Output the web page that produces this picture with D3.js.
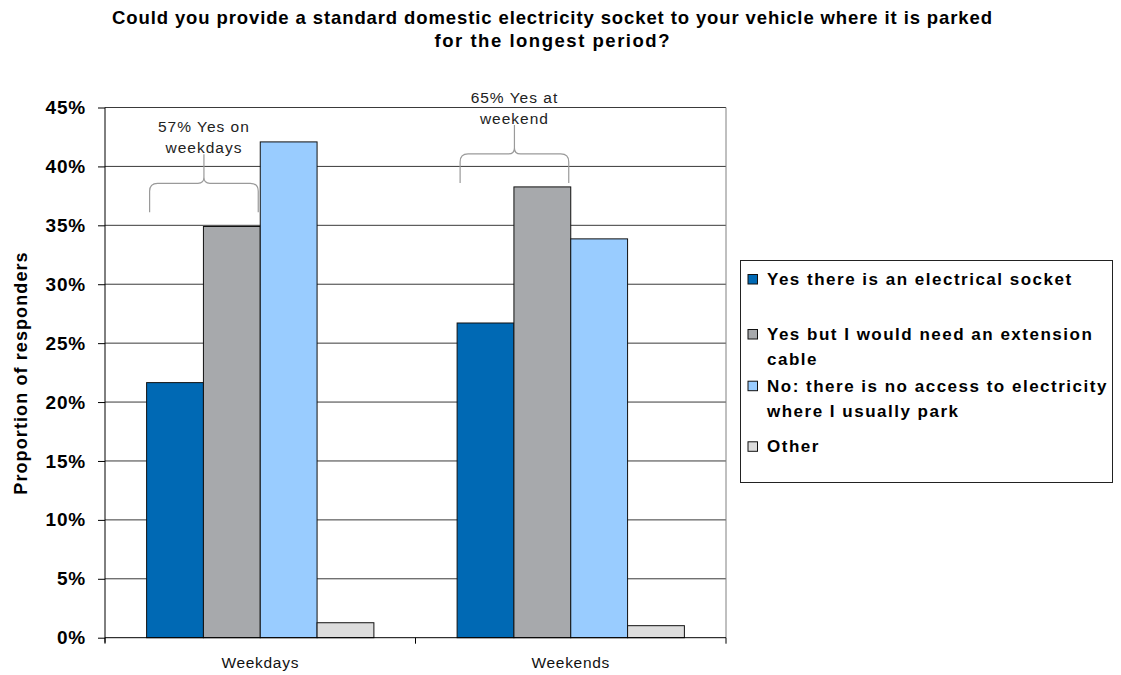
<!DOCTYPE html>
<html>
<head>
<meta charset="utf-8">
<script src="https://cdn.jsdelivr.net/npm/d3@7"></script>
<style>
  body { margin: 0; background: #fff; }
  svg { display: block; font-family: "Liberation Sans", Arial, sans-serif; }
</style>
</head>
<body>
<div id="grafico"></div>
<script>
// Datos
const categorias = ["Weekdays", "Weekends"];
const series = [
    "Yes there is an electrical socket",
    "Yes but I would need an extension cable",
    "No: there is no access to electricity where I usually park",
    "Other"
];
const valoresWeekdays = [0.2165, 0.349, 0.4208, 0.0127];
const valoresWeekends = [0.2671, 0.3826, 0.3385, 0.0102];
const ticksY = [0, 0.05, 0.10, 0.15, 0.20, 0.25, 0.30, 0.35, 0.40, 0.45];
const legendLines = [
    ["Yes there is an electrical socket"],
    ["Yes but I would need an extension", "cable"],
    ["No: there is no access to electricity", "where I usually park"],
    ["Other"]
];
const anotaciones = [
    { cat: "Weekdays", texto: ["57% Yes on", "weekdays"], nivel: 0.361 },
    { cat: "Weekends", texto: ["65% Yes at", "weekend"], nivel: 0.386 }
];
const titulo = [
    "Could you provide a standard domestic electricity socket to your vehicle where it is parked",
    "for the longest period?"
];
const colores = ["#0069B4", "#A7A9AC", "#99CCFF", "#DDDDDD"];

const datos = categorias.map((c, i) => ({
    nombre: c,
    valores: (i === 0 ? valoresWeekdays : valoresWeekends)
}));

const W = 1121, H = 675;
const plot = { left: 105, right: 726, top: 107.5, bottom: 637.7 };

const svg = d3.select("#grafico").append("svg")
    .attr("width", W).attr("height", H);

// Escalas
const x0 = d3.scaleBand()
    .domain(categorias)
    .range([plot.left, plot.right]);

const inset = x0.bandwidth() * 0.134;
const x1 = d3.scaleBand()
    .domain(d3.range(series.length))
    .range([inset, x0.bandwidth() - inset]);

const y = d3.scaleLinear()
    .domain([0, 0.45])
    .range([plot.bottom, plot.top]);

// Título
const anchoTitulo = [880, 235];
svg.append("g").selectAll("text")
    .data(titulo)
    .enter().append("text")
    .attr("x", 552)
    .attr("y", (d, i) => 24 + i * 23)
    .attr("text-anchor", "middle")
    .attr("font-size", 18.5).attr("font-weight", "bold")
    .attr("textLength", (d, i) => anchoTitulo[i])
    .attr("lengthAdjust", "spacing")
    .text(d => d);

// Líneas de cuadrícula
svg.append("g")
    .selectAll("line")
    .data(ticksY.filter(t => t > 0))
    .enter().append("line")
    .attr("x1", plot.left).attr("x2", plot.right)
    .attr("y1", d => y(d)).attr("y2", d => y(d))
    .attr("stroke", "#3a3a3a").attr("stroke-width", 1);

// Borde derecho
svg.append("line")
    .attr("x1", plot.right).attr("x2", plot.right)
    .attr("y1", plot.top).attr("y2", plot.bottom)
    .attr("stroke", "#808080");

// Barras
svg.selectAll("g.barra")
    .data(datos)
    .enter().append("g")
    .attr("class", "barra")
    .attr("transform", d => `translate(${x0(d.nombre)},0)`)
    .selectAll("rect")
    .data(d => d.valores.map((v, i) => ({ i: i, v: v })))
    .enter().append("rect")
    .attr("x", d => x1(d.i))
    .attr("y", d => y(d.v))
    .attr("width", x1.bandwidth())
    .attr("height", d => y(0) - y(d.v))
    .attr("fill", d => colores[d.i])
    .attr("stroke", "#111").attr("stroke-width", 1);

// Eje Y
const ejeY = svg.append("g")
    .attr("transform", `translate(${plot.left},0)`)
    .call(d3.axisLeft(y).tickValues(ticksY).tickSize(7).tickPadding(12)
        .tickFormat(d3.format(".0%")));
ejeY.select(".domain").remove();
ejeY.selectAll("line").attr("stroke", "#000");
ejeY.selectAll("text")
    .attr("font-size", 19).attr("font-weight", "bold")
    .attr("letter-spacing", 0.8)
    .attr("font-family", "Liberation Sans, Arial, sans-serif")
    .attr("fill", "#000");
svg.append("line")
    .attr("x1", plot.left).attr("x2", plot.left)
    .attr("y1", plot.top).attr("y2", plot.bottom + 5)
    .attr("stroke", "#000");

// Eje X
svg.append("line")
    .attr("x1", plot.left).attr("x2", plot.right)
    .attr("y1", plot.bottom).attr("y2", plot.bottom)
    .attr("stroke", "#000");
const bordesX = [plot.left].concat(categorias.map(c => x0(c) + x0.bandwidth()));
svg.append("g").selectAll("line")
    .data(bordesX)
    .enter().append("line")
    .attr("x1", d => d).attr("x2", d => d)
    .attr("y1", plot.bottom).attr("y2", plot.bottom + 6)
    .attr("stroke", "#000");
svg.append("g").selectAll("text")
    .data(categorias)
    .enter().append("text")
    .attr("x", d => x0(d) + x0.bandwidth() / 2)
    .attr("y", 668)
    .attr("text-anchor", "middle")
    .attr("font-size", 15.5)
    .attr("letter-spacing", 0.7)
    .attr("fill", "#111")
    .text(d => d);

// Título eje Y
svg.append("text")
    .attr("transform", "translate(27,373) rotate(-90)")
    .attr("text-anchor", "middle")
    .attr("font-size", 18).attr("font-weight", "bold")
    .attr("letter-spacing", 1.1)
    .text("Proportion of responders");

// Anotaciones (llaves)
anotaciones.forEach(a => {
    const xl = x0(a.cat) + x1(0) + 3;
    const xr = x0(a.cat) + x1(1) + x1.bandwidth() - 2;
    const xm = (xl + xr) / 2;
    const yb = y(a.nivel);
    const yh = yb - 29;
    const yt = yh - 29;
    const r = 8, r2 = 6;
    const p = `M${xl},${yb} V${yh + r} Q${xl},${yh} ${xl + r},${yh} H${xm - r2} Q${xm},${yh} ${xm},${yh - r2} V${yt}` +
              ` M${xr},${yb} V${yh + r} Q${xr},${yh} ${xr - r},${yh} H${xm + r2} Q${xm},${yh} ${xm},${yh - r2}`;
    svg.append("path")
        .attr("d", p)
        .attr("fill", "none")
        .attr("stroke", "#9a9a9a").attr("stroke-width", 1.2);
    svg.append("g").selectAll("text")
        .data(a.texto)
        .enter().append("text")
        .attr("x", xm)
        .attr("y", (d, i) => yt - 1 - (1 - i) * 21)
        .attr("text-anchor", "middle")
        .attr("font-size", 15.5)
        .attr("letter-spacing", 1)
        .attr("fill", "#222")
        .text(d => d);
});

// Leyenda
const legend = svg.append("g");
legend.append("rect")
    .attr("x", 740.5).attr("y", 260.5)
    .attr("width", 372).attr("height", 222)
    .attr("fill", "#fff").attr("stroke", "#222");

const baselines = [[285], [340, 364.5], [391.7, 416.5], [452.3]];
legendLines.forEach((lineas, i) => {
    legend.append("rect")
        .attr("x", 748).attr("y", baselines[i][0] - 10.5)
        .attr("width", 9.5).attr("height", 9.5)
        .attr("fill", colores[i]).attr("stroke", "#111");
    lineas.forEach((t, j) => {
        legend.append("text")
            .attr("x", 767).attr("y", baselines[i][j])
            .attr("font-size", 17).attr("font-weight", "bold")
            .attr("letter-spacing", 1.5)
            .attr("fill", "#000")
            .text(t);
    });
});
</script>
</body>
</html>
